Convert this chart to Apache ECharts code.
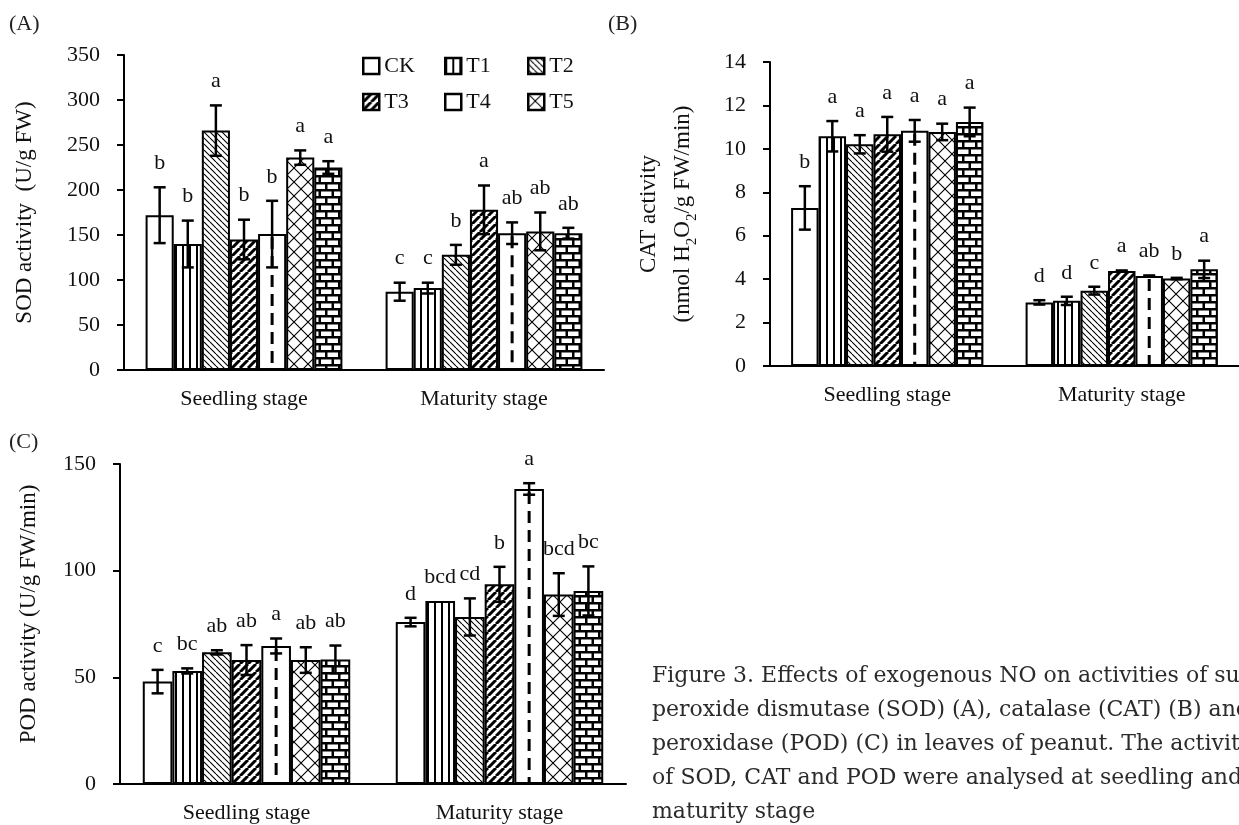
<!DOCTYPE html>
<html>
<head>
<meta charset="utf-8">
<script src="https://cdn.jsdelivr.net/npm/echarts@6/dist/echarts.min.js"></script>
<style>
  html, body { margin: 0; padding: 0; background: #fff; overflow: hidden; }
  #chart { width: 1239px; height: 825px; }
</style>
</head>
<body>
<div id="chart"></div>
<script>
// ---- data ----
const stages = ['Seedling stage', 'Maturity stage']
const treatments = ['CK', 'T1', 'T2', 'T3', 'T4', 'T5', 'T6']
const legendRow1 = ['CK', 'T1', 'T2']
const legendRow2 = ['T3', 'T4', 'T5']

// (A) SOD activity (U/g FW)
const sodSeedling = [172, 140, 266, 145, 151, 236, 225]
const sodSeedlingErr = [31, 26, 28, 22, 37, 8, 7]
const sodSeedlingSig = ['b', 'b', 'a', 'b', 'b', 'a', 'a']
const sodMaturity = [87, 91, 128, 178, 152, 154, 152]
const sodMaturityErr = [10, 6, 11, 27, 12, 21, 6]
const sodMaturitySig = ['c', 'c', 'b', 'a', 'ab', 'ab', 'ab']
const sodTicks = { min: 0, max: 350, interval: 50 }

// (B) CAT activity (nmol H2O2/g FW/min)
const catSeedling = [7.28, 10.58, 10.21, 10.67, 10.83, 10.78, 11.24]
const catSeedlingErr = [1.0, 0.7, 0.42, 0.8, 0.5, 0.38, 0.66]
const catSeedlingSig = ['b', 'a', 'a', 'a', 'a', 'a', 'a']
const catMaturity = [2.93, 3.0, 3.47, 4.37, 4.14, 4.03, 4.45]
const catMaturityErr = [0.1, 0.19, 0.18, 0.03, 0.03, 0.03, 0.4]
const catMaturitySig = ['d', 'd', 'c', 'a', 'ab', 'b', 'a']
const catTicks = { min: 0, max: 14, interval: 2 }

// (C) POD activity (U/g FW/min)
const podSeedling = [48, 53, 61.7, 58.1, 64.7, 58.1, 58.4]
const podSeedlingErr = [5.5, 1.2, 1, 7, 3.5, 6, 6.5]
const podSeedlingSig = ['c', 'bc', 'ab', 'ab', 'a', 'ab', 'ab']
const podMaturity = [75.9, 85.8, 78.3, 93.6, 138.3, 88.8, 90.5]
const podMaturityErr = [2, 0, 8.7, 8.2, 2.7, 10, 11.5]
const podMaturitySig = ['d', 'bcd', 'cd', 'b', 'a', 'bcd', 'bc']
const podTicks = { min: 0, max: 150, interval: 50 }

const caption = [
  'Figure 3. Effects of exogenous NO on activities of su-',
  'peroxide dismutase (SOD) (A), catalase (CAT) (B) and',
  'peroxidase (POD) (C) in leaves of peanut. The activities',
  'of SOD, CAT and POD were analysed at seedling and',
  'maturity stage'
]

// ---- styles ----
const FONT = 'Liberation Serif'
const CAT_GAP = 0.18

const makePattern = (w, h, draw) => {
  const c = document.createElement('canvas')
  c.width = w
  c.height = h
  const ctx = c.getContext('2d')
  ctx.fillStyle = '#fff'
  ctx.fillRect(0, 0, w, h)
  ctx.fillStyle = '#000'
  ctx.strokeStyle = '#000'
  draw(ctx)
  return { image: c, repeat: 'repeat' }
}

const diag = (ctx, size, width, forward) => {
  ctx.lineWidth = width
  ctx.beginPath()
  for (let o = -size; o <= size; o += size) {
    if (forward) {
      ctx.moveTo(o, size); ctx.lineTo(o + size, 0)
    } else {
      ctx.moveTo(o, 0); ctx.lineTo(o + size, size)
    }
  }
  ctx.stroke()
}

const fills = [
  '#fff',
  makePattern(7, 4, ctx => ctx.fillRect(0, 0, 2, 4)),
  makePattern(6, 6, ctx => diag(ctx, 6, 1.1, false)),
  makePattern(8, 8, ctx => diag(ctx, 8, 3, true)),
  '#fff',
  makePattern(14, 14, ctx => { diag(ctx, 14, 1.1, true); diag(ctx, 14, 1.1, false) }),
  makePattern(13, 14, ctx => {
    ctx.fillRect(0, 0, 13, 2.5)
    ctx.fillRect(0, 7, 13, 2.5)
    ctx.fillRect(0, 0, 2.5, 7)
    ctx.fillRect(6.5, 7, 2.5, 7)
  })
]

const panels = [
  { seed: sodSeedling, seedErr: sodSeedlingErr, seedSig: sodSeedlingSig,
    mat: sodMaturity, matErr: sodMaturityErr, matSig: sodMaturitySig, ticks: sodTicks },
  { seed: catSeedling, seedErr: catSeedlingErr, seedSig: catSeedlingSig,
    mat: catMaturity, matErr: catMaturityErr, matSig: catMaturitySig, ticks: catTicks },
  { seed: podSeedling, seedErr: podSeedlingErr, seedSig: podSeedlingSig,
    mat: podMaturity, matErr: podMaturityErr, matSig: podMaturitySig, ticks: podTicks }
]

const grids = [
  { left: 124, top: 55, width: 480, height: 315 },
  { left: 770, top: 62, width: 478, height: 304 },
  { left: 120, top: 464, width: 506, height: 320 }
]

const axisText = { color: '#111', fontFamily: FONT, fontSize: 22 }

const xAxes = grids.map((g, i) => ({
  type: 'category',
  gridIndex: i,
  data: stages,
  axisLine: { lineStyle: { color: '#000', width: 2 } },
  axisTick: { length: 7, lineStyle: { color: '#000', width: 2 } },
  axisLabel: { ...axisText, margin: 18 }
}))

const yNames = [
  { name: 'SOD activity  (U/g FW)', gap: 82, padding: 0 },
  { name: 'CAT activity\n(nmol H{sub|2}O{sub|2}/g FW/min)', gap: 70, padding: 0 },
  { name: 'POD activity (U/g FW/min)', gap: 74, padding: [0, 0, 0, 20] }
]

const yAxes = panels.map((p, i) => ({
  type: 'value',
  gridIndex: i,
  ...p.ticks,
  name: yNames[i].name,
  nameLocation: 'middle',
  nameGap: yNames[i].gap,
  nameTextStyle: {
    ...axisText, fontSize: 23, lineHeight: 34, padding: yNames[i].padding,
    rich: { sub: { fontFamily: FONT, fontSize: 15, color: '#111', verticalAlign: 'bottom', lineHeight: 34 } }
  },
  splitLine: { show: false },
  axisLine: { show: true, lineStyle: { color: '#000', width: 2 } },
  axisTick: { show: true, length: 7, lineStyle: { color: '#000', width: 2 } },
  axisLabel: { ...axisText, margin: 24 }
}))

const series = []
panels.forEach((p, gi) => {
  treatments.forEach((t, ti) => {
    series.push({
      name: t,
      type: 'bar',
      xAxisIndex: gi,
      yAxisIndex: gi,
      barGap: 0,
      barCategoryGap: CAT_GAP * 100 + '%',
      itemStyle: { color: fills[ti], borderColor: '#000', borderWidth: 2 },
      data: [p.seed[ti], p.mat[ti]]
    })
  })

  // error bars, significance letters, dashed line of T4
  const items = []
  treatments.forEach((t, ti) => {
    items.push([0, ti, p.seed[ti], p.seedErr[ti], p.seedSig[ti]])
    items.push([1, ti, p.mat[ti], p.matErr[ti], p.matSig[ti]])
  })
  series.push({
    type: 'custom',
    xAxisIndex: gi,
    yAxisIndex: gi,
    z: 5,
    silent: true,
    data: items,
    renderItem: (params, api) => {
      const [cat, ti, v, e, sig] = items[params.dataIndex]
      const bandW = api.size([1, 0])[0]
      const groupW = bandW * (1 - CAT_GAP)
      const barW = groupW / treatments.length
      const cx = api.coord([cat, 0])[0] - groupW / 2 + barW * (ti + 0.5)
      const yTop = api.coord([cat, v + e])[1]
      const yBot = api.coord([cat, v - e])[1]
      const yVal = api.coord([cat, v])[1]
      const y0 = api.coord([cat, 0])[1]
      const line = { stroke: '#000', lineWidth: 2.5 }
      const children = []
      if (ti === 4) {
        children.push({ type: 'line', shape: { x1: cx, y1: yVal + 3, x2: cx, y2: y0 - 1 },
          style: { stroke: '#000', lineWidth: 3, lineDash: [12, 7] } })
      }
      if (e > 0) {
        children.push({ type: 'line', shape: { x1: cx, y1: yTop, x2: cx, y2: yBot }, style: line })
        children.push({ type: 'line', shape: { x1: cx - 6, y1: yTop, x2: cx + 6, y2: yTop }, style: line })
        children.push({ type: 'line', shape: { x1: cx - 6, y1: yBot, x2: cx + 6, y2: yBot }, style: line })
      }
      children.push({ type: 'text', x: cx, y: yTop - 13,
        style: { text: sig, fill: '#111', font: '22px ' + FONT, align: 'center', verticalAlign: 'bottom' } })
      return { type: 'group', children }
    }
  })
})

// one legend per item so the 3x2 block keeps fixed columns
const legendCols = [362, 444, 527]
const legendBase = {
  orient: 'horizontal',
  icon: 'rect',
  padding: 0,
  itemWidth: 16,
  itemHeight: 16,
  selectedMode: false,
  itemStyle: { borderWidth: 2.5 },
  textStyle: { ...axisText }
}
const legends = [
  ...legendRow1.map((n, i) => ({ ...legendBase, left: legendCols[i], top: 55, data: [n] })),
  ...legendRow2.map((n, i) => ({ ...legendBase, left: legendCols[i], top: 91, data: [n] }))
]

const panelLabel = (text, left, top) => ({
  type: 'text', left, top,
  style: { text, font: '22px ' + FONT, fill: '#222' }
})

const option = {
  animation: false,
  backgroundColor: '#fff',
  grid: grids,
  xAxis: xAxes,
  yAxis: yAxes,
  legend: legends,
  graphic: [
    panelLabel('(A)', 9, 13),
    panelLabel('(B)', 608, 13),
    panelLabel('(C)', 9, 431),
    { type: 'text', left: 652, top: 659,
      style: { text: caption.join('\n'), font: '22px DejaVu Serif', fill: '#2b2b2b', lineHeight: 34 } }
  ],
  series
}

const chart = echarts.init(document.getElementById('chart'))
chart.setOption(option)
</script>
</body>
</html>
